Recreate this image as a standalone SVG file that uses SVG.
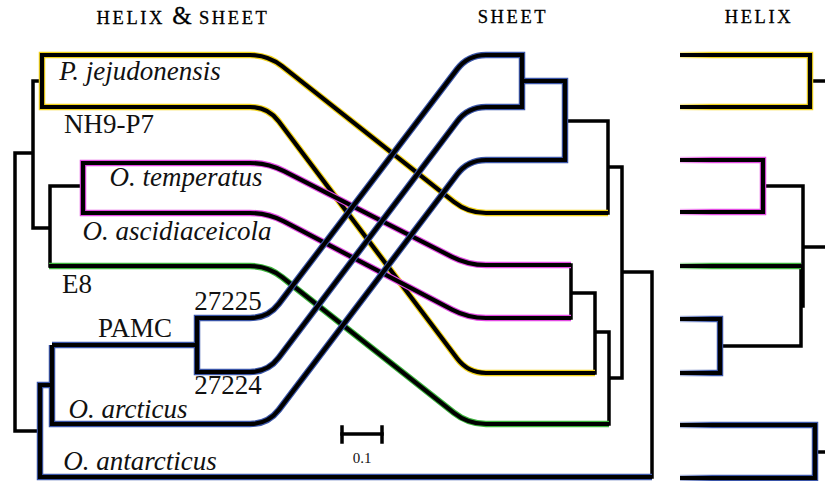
<svg xmlns="http://www.w3.org/2000/svg" width="825" height="481" viewBox="0 0 825 481">
<style>
text{font-family:"Liberation Serif","DejaVu Serif",serif;fill:#111}
.lab{font-size:27px}
.it{font-style:italic}
.title{font-size:18.5px;letter-spacing:2.6px;fill:#000;stroke:#000;stroke-width:0.3}
.thin{fill:none;stroke:#000;stroke-width:3.5;stroke-linecap:square}
.ol{fill:none;stroke-width:6.5;stroke-linejoin:miter}
.in{fill:none;stroke:#000;stroke-width:4.2;stroke-linejoin:miter}
.y{stroke:#f2d21a}
.m{stroke:#e44ae4}
.g{stroke:#3cb43c}
.b{stroke:#3a55a8}
</style>
<defs>
<linearGradient id="gy" gradientUnits="userSpaceOnUse" x1="680" y1="0" x2="712" y2="0"><stop offset="0" stop-color="#f6e88a"/><stop offset="1" stop-color="#000"/></linearGradient>
<linearGradient id="gm" gradientUnits="userSpaceOnUse" x1="680" y1="0" x2="712" y2="0"><stop offset="0" stop-color="#f0a8f0"/><stop offset="1" stop-color="#000"/></linearGradient>
<linearGradient id="gg" gradientUnits="userSpaceOnUse" x1="680" y1="0" x2="712" y2="0"><stop offset="0" stop-color="#a8e0a8"/><stop offset="1" stop-color="#000"/></linearGradient>
<linearGradient id="gb" gradientUnits="userSpaceOnUse" x1="680" y1="0" x2="712" y2="0"><stop offset="0" stop-color="#b0b8d8"/><stop offset="1" stop-color="#000"/></linearGradient>
<linearGradient id="oy" gradientUnits="userSpaceOnUse" x1="680" y1="0" x2="712" y2="0"><stop offset="0" stop-color="#f2d21a" stop-opacity="0.4"/><stop offset="1" stop-color="#f2d21a"/></linearGradient>
<linearGradient id="om" gradientUnits="userSpaceOnUse" x1="680" y1="0" x2="712" y2="0"><stop offset="0" stop-color="#e44ae4" stop-opacity="0.4"/><stop offset="1" stop-color="#e44ae4"/></linearGradient>
<linearGradient id="og" gradientUnits="userSpaceOnUse" x1="680" y1="0" x2="712" y2="0"><stop offset="0" stop-color="#3cb43c" stop-opacity="0.4"/><stop offset="1" stop-color="#3cb43c"/></linearGradient>
<linearGradient id="ob" gradientUnits="userSpaceOnUse" x1="680" y1="0" x2="712" y2="0"><stop offset="0" stop-color="#3a55a8" stop-opacity="0.4"/><stop offset="1" stop-color="#3a55a8"/></linearGradient>
</defs>
<rect width="825" height="481" fill="#fff"/>

<g id="titles">
<text class="title" x="183" y="24" text-anchor="middle">HELIX <tspan font-size="25" letter-spacing="0">&amp;</tspan> SHEET</text>
<text class="title" x="513" y="23" text-anchor="middle">SHEET</text>
<text class="title" x="759" y="23" text-anchor="middle">HELIX</text>
</g>

<g id="connectors">
<!-- thin black tree lines: left tree -->
<path class="thin" d="M42,81 H33 V228 H50 M33,153 H15 V431 H40 M50,186 V266 M50,186 H83"/>
<!-- thin black tree lines: sheet tree -->
<path class="thin" d="M571,265 V318 M565,121 H608 V213 M608,167 H622 V378 M622,272 H652 V477 M571,293 H595 V373 M595,332 H609 V424 M609,378 H622"/>
<!-- thin black: helix tree -->
<path class="thin" d="M810,81 H826 M763,186 H803 V306 M803,247 H826 M801,266 V346 H720 M815,452 H826"/>

<!-- yellow strand -->
<path class="ol y" d="M608,213 H486 Q468,213 453.9,201.8 L282.1,66.2 Q268,55 250,55 H42 V107 H250 Q268,107 278.8,121.4 L457.2,358.6 Q468,373 486,373 H595"/>
<path class="in" d="M608,213 H486 Q468,213 453.9,201.8 L282.1,66.2 Q268,55 250,55 H42 V107 H250 Q268,107 278.8,121.4 L457.2,358.6 Q468,373 486,373 H595"/>
<!-- magenta strand -->
<path class="ol m" d="M571,265 H486 Q468,265 452,256.8 L284,171.2 Q268,163 250,163 H83 V213 H250 Q268,213 283.9,221.4 L452.1,309.6 Q468,318 486,318 H571"/>
<path class="in" d="M571,265 H486 Q468,265 452,256.8 L284,171.2 Q268,163 250,163 H83 V213 H250 Q268,213 283.9,221.4 L452.1,309.6 Q468,318 486,318 H571"/>
<!-- green strand -->
<path class="ol g" d="M49,266 H250 Q268,266 282.1,277.2 L453.9,412.8 Q468,424 486,424 H609"/>
<path class="in" d="M49,266 H250 Q268,266 282.1,277.2 L453.9,412.8 Q468,424 486,424 H609"/>
<!-- blue strands -->
<path class="ol b" d="M652,477 H40 V385 H52 M52,345 V424 H250 Q268,424 278.9,409.7 L457.1,174.4 Q468,160 486,160 H565 V81 H522 M52,345 H197 M486,55 H522 V107 H486 Q468,107 457.2,121.4 L278.8,357.6 Q268,372 250,372 H197 V318 H250 Q268,318 278.9,303.7 L457.1,69.3 Q468,55 486,55"/>
<path class="in" d="M652,477 H40 V385 H52 M52,345 V424 H250 Q268,424 278.9,409.7 L457.1,174.4 Q468,160 486,160 H565 V81 H522 M52,345 H197 M486,55 H522 V107 H486 Q468,107 457.2,121.4 L278.8,357.6 Q268,372 250,372 H197 V318 H250 Q268,318 278.9,303.7 L457.1,69.3 Q468,55 486,55"/>

<!-- helix leaves -->
<path class="ol" stroke="url(#oy)" d="M680,55 H810 V107 H680"/>
<path class="in" stroke="url(#gy)" d="M680,55 H810 V107 H680"/>
<path class="ol" stroke="url(#om)" d="M680,160 H763 V212 H680"/>
<path class="in" stroke="url(#gm)" d="M680,160 H763 V212 H680"/>
<path class="ol" stroke="url(#og)" d="M680,266 H801"/>
<path class="in" stroke="url(#gg)" d="M680,266 H801"/>
<path class="ol" stroke="url(#ob)" d="M680,319 H720 V373 H680"/>
<path class="in" stroke="url(#gb)" d="M680,319 H720 V373 H680"/>
<path class="ol" stroke="url(#ob)" d="M680,425 H815 V478 H680"/>
<path class="in" stroke="url(#gb)" d="M680,425 H815 V478 H680"/>
</g>

<g id="node-p-jejudonensis"><text class="lab it" x="140" y="80" text-anchor="middle">P. jejudonensis</text></g>
<g id="node-nh9-p7"><text class="lab" x="109" y="133" text-anchor="middle">NH9-P7</text></g>
<g id="node-o-temperatus"><text class="lab it" x="186" y="186" text-anchor="middle">O. temperatus</text></g>
<g id="node-o-ascidiaceicola"><text class="lab it" x="177" y="240" text-anchor="middle">O. ascidiaceicola</text></g>
<g id="node-e8"><text class="lab" x="77" y="293" text-anchor="middle">E8</text></g>
<g id="node-27225"><text class="lab" x="228" y="310" text-anchor="middle">27225</text></g>
<g id="node-pamc"><text class="lab" x="135" y="337" text-anchor="middle">PAMC</text></g>
<g id="node-27224"><text class="lab" x="228" y="394" text-anchor="middle">27224</text></g>
<g id="node-o-arcticus"><text class="lab it" x="128" y="418" text-anchor="middle">O. arcticus</text></g>
<g id="node-o-antarcticus"><text class="lab it" x="140" y="470" text-anchor="middle">O. antarcticus</text></g>

<g id="scale">
<path class="thin" stroke-width="3" stroke-linecap="butt" d="M342,434 H382"/>
<path class="thin" stroke-width="2" stroke-linecap="butt" d="M342,427 V442 M382,427 V442"/>
<text x="362" y="463" font-size="15" text-anchor="middle">0.1</text>
</g>
</svg>
